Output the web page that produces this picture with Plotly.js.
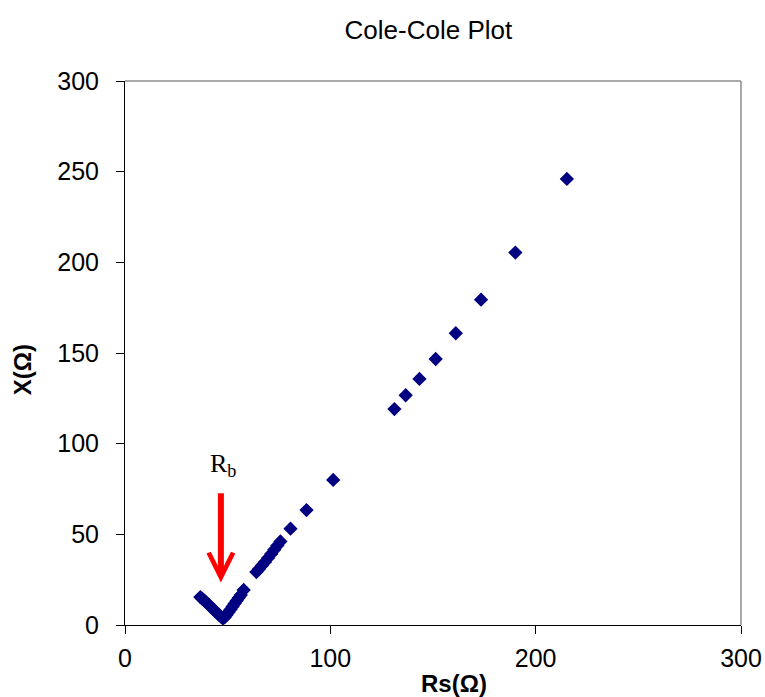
<!DOCTYPE html>
<html>
<head>
<meta charset="utf-8">
<script src="https://cdn.plot.ly/plotly-3.0.1.min.js"></script>
<style>
  html, body { margin: 0; padding: 0; background: #fff; }
  #chart { width: 765px; height: 697px; }
</style>
</head>
<body>
<div id="chart"></div>
<script>
// Impedance measurements: real part Rs and imaginary part X, both in ohms
const rs = [
  215.2, 190.1, 173.4, 161.1, 151.3, 143.4, 136.7, 131.2,
  101.4, 88.4, 80.6,
  75.7, 74.2, 72.7, 71.2, 69.7, 68.2, 66.7, 65.3, 64.0,
  57.8,
  56.4, 55.4, 54.4, 53.4, 52.4, 51.4, 50.4, 49.4, 48.5,
  47.7,
  46.7, 45.7, 44.7, 43.7, 42.7, 41.7, 40.7, 39.7, 38.7, 37.7, 36.7
];
const xReact = [
  246.0, 205.4, 179.4, 160.9, 146.7, 135.7, 126.7, 119.1,
  80.0, 63.4, 53.1,
  46.1, 43.8, 41.5, 39.2, 37.0, 34.8, 32.8, 30.9, 29.2,
  19.3,
  16.6, 15.0, 13.4, 11.8, 10.2, 8.6, 7.0, 5.5, 4.2,
  3.6,
  4.6, 5.7, 6.8, 7.9, 9.0, 10.1, 11.2, 12.3, 13.4, 14.4, 15.4
];

// Bulk resistance marker: label position and arrow from tail to tip
const rbLabel = { rs: 47.7, x: 88.5 };
const rbArrow = { rs: 46.7, tailX: 73.5, tipX: 23.5 };

const xTicks = [0, 100, 200, 300];
const yTicks = [0, 50, 100, 150, 200, 250, 300];

const sans = 'Arial, "Liberation Sans", sans-serif';

const trace = {
  type: 'scatter',
  mode: 'markers',
  x: rs,
  y: xReact,
  marker: { symbol: 'diamond', size: 11, color: '#000080', line: { width: 0 } },
  hoverinfo: 'x+y'
};

const layout = {
  width: 765,
  height: 697,
  margin: { l: 125, r: 24, t: 81, b: 72 },
  paper_bgcolor: '#ffffff',
  plot_bgcolor: '#ffffff',
  showlegend: false,
  title: {
    text: 'Cole-Cole Plot',
    font: { family: sans, size: 26, color: '#000' },
    x: 0.56, xanchor: 'center',
    y: 0.957, yanchor: 'middle'
  },
  xaxis: {
    range: [0, 300],
    tickvals: xTicks,
    ticktext: xTicks.map(String),
    ticks: 'outside', ticklen: 8, tickcolor: '#000', tickwidth: 1,
    ticklabelstandoff: 3,
    showline: true, linecolor: '#000', linewidth: 1,
    showgrid: false, zeroline: false,
    tickfont: { family: sans, size: 25, color: '#000' }
  },
  yaxis: {
    range: [0, 300],
    tickvals: yTicks,
    ticktext: yTicks.map(String),
    ticks: 'outside', ticklen: 8, tickcolor: '#000', tickwidth: 1,
    ticklabelstandoff: 12,
    showline: true, linecolor: '#000', linewidth: 1,
    showgrid: false, zeroline: false,
    tickfont: { family: sans, size: 25, color: '#000' }
  },
  shapes: [
    // plot area frame on the top and right edges
    { type: 'line', xref: 'paper', yref: 'paper', x0: 0, x1: 1, y0: 1, y1: 1,
      line: { color: '#8c8c8c', width: 1.5 } },
    { type: 'line', xref: 'paper', yref: 'paper', x0: 1, x1: 1, y0: 0, y1: 1,
      line: { color: '#8c8c8c', width: 1.5 } }
  ],
  annotations: [
    // axis titles
    {
      text: '<b>Rs(Ω)</b>', xref: 'paper', yref: 'paper',
      x: 0.534, y: -0.108, xanchor: 'center', yanchor: 'middle', showarrow: false,
      font: { family: sans, size: 24, color: '#000' }
    },
    {
      text: '<b>X(Ω)</b>', xref: 'paper', yref: 'paper', textangle: -90,
      x: -0.165, y: 0.469, xanchor: 'center', yanchor: 'middle', showarrow: false,
      font: { family: sans, size: 24, color: '#000' }
    },
    {
      x: rbArrow.rs, y: rbArrow.tipX, xref: 'x', yref: 'y',
      ax: rbArrow.rs, ay: rbArrow.tailX, axref: 'x', ayref: 'y',
      text: '', showarrow: true,
      arrowhead: 5, arrowsize: 0.8, arrowwidth: 6, arrowcolor: '#ff0000'
    },
    {
      x: rbLabel.rs, y: rbLabel.x, xref: 'x', yref: 'y',
      text: 'R<sub>b</sub>', showarrow: false,
      font: { family: '"Times New Roman", "Liberation Serif", serif', size: 26, color: '#000' }
    }
  ]
};

Plotly.newPlot('chart', [trace], layout, { displayModeBar: false, staticPlot: true });
</script>
</body>
</html>
